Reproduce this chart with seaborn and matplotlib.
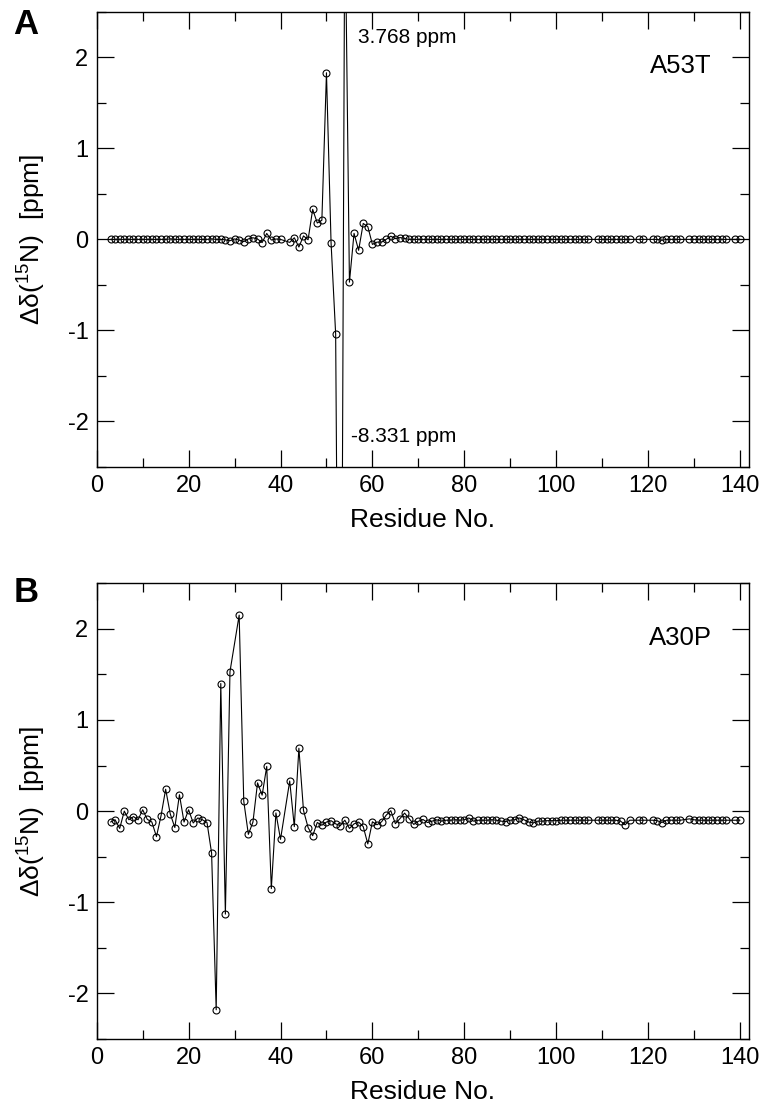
import numpy as np
import pandas as pd
import seaborn as sns
import matplotlib
matplotlib.use("Agg")
import matplotlib.pyplot as plt
from matplotlib.ticker import MultipleLocator

# =============================
# Data
# =============================
# residues with no data (prolines / overlapped peaks)
missing_a = [41, 108, 117, 120, 128, 138]
missing_b = [30, 41, 108, 117, 120, 128, 138]

residues_a = [r for r in range(3, 141) if r not in missing_a]
residues_b = [r for r in range(3, 141) if r not in missing_b]

# A53T: residues 3-40
shift_a_n = [0.0, 0.0, 0.0, 0.0, 0.0, 0.0, 0.0, 0.0, 0.0, 0.0,
             0.0, 0.0, 0.0, 0.005, 0.0, 0.0, 0.0, 0.0, 0.0, 0.0,
             0.0, 0.0, 0.005, 0.0, 0.0, -0.005, -0.015, 0.005, -0.008, -0.025,
             0.005, 0.018, 0.004, -0.035, 0.065, -0.007, 0.004, 0.0]
# A53T: residues 42-107
shift_a_mid = [-0.033, 0.018, -0.084, 0.038, -0.004, 0.33, 0.18, 0.21, 1.83,
               -0.035, -1.04, -8.331, 3.768, -0.47, 0.066, -0.12, 0.175, 0.14, -0.055,
               -0.03, -0.03, 0.0, 0.035, 0.008, 0.02, 0.01, 0.0, 0.0, 0.0,
               0.0, 0.0, 0.0, 0.0, 0.0, 0.0, 0.0, 0.0, 0.0, 0.0,
               0.0, 0.0, 0.0, 0.0, 0.0, 0.0, 0.0, 0.0, 0.0, 0.0,
               0.0, 0.0, 0.0, 0.0, 0.0, 0.0, 0.0, 0.0, 0.0, 0.0,
               0.0, 0.0, 0.0, 0.0, 0.0, 0.0, 0.0]
# A53T: residues 109-116, 118-119, 121-127, 129-137, 139-140
shift_a_c = [0.0, 0.0, 0.0, 0.0, 0.0, 0.0, 0.0, 0.0,
             0.0, 0.0,
             0.0, 0.0, -0.01, 0.0, 0.0, 0.0, 0.0,
             0.0, 0.0, 0.0, 0.0, 0.0, 0.0, 0.0, 0.0, 0.0,
             0.0, 0.0]

# A30P: residues 3-29
shift_b_n = [-0.12, -0.095, -0.19, 0.0, -0.095, -0.06, -0.095, 0.015, -0.09, -0.12,
             -0.28, -0.05, 0.24, -0.03, -0.18, 0.18, -0.12, 0.015, -0.13, -0.075,
             -0.095, -0.125, -0.46, -2.18, 1.40, -1.13, 1.53]
# A30P: residues 31-40
shift_b_31 = [2.15, 0.11, -0.255, -0.12, 0.31, 0.175, 0.49, -0.85, -0.02, -0.31]
# A30P: residues 42-107
shift_b_mid = [0.33, -0.17, 0.69, 0.008, -0.18, -0.27, -0.125, -0.155, -0.12, -0.105,
               -0.14, -0.16, -0.1, -0.19, -0.14, -0.12, -0.17, -0.36, -0.117, -0.15,
               -0.117, -0.045, 0.005, -0.138, -0.082, -0.022, -0.082, -0.146, -0.112, -0.092,
               -0.125, -0.11, -0.095, -0.11, -0.1, -0.1, -0.095, -0.1, -0.095, -0.075,
               -0.11, -0.1, -0.1, -0.1, -0.095, -0.1, -0.11, -0.115, -0.1, -0.095,
               -0.075, -0.095, -0.12, -0.13, -0.11, -0.11, -0.105, -0.105, -0.105, -0.1,
               -0.1, -0.1, -0.1, -0.1, -0.1, -0.1]
# A30P: residues 109-116, 118-119, 121-127, 129-137, 139-140
shift_b_c = [-0.1, -0.1, -0.1, -0.1, -0.1, -0.11, -0.15, -0.1,
             -0.1, -0.1,
             -0.1, -0.105, -0.125, -0.1, -0.1, -0.1, -0.1,
             -0.085, -0.095, -0.1, -0.1, -0.1, -0.1, -0.1, -0.1, -0.1,
             -0.1, -0.1]

shift_a = shift_a_n + shift_a_mid + shift_a_c
shift_b = shift_b_n + shift_b_31 + shift_b_mid + shift_b_c

df_a = pd.DataFrame({"residue": residues_a, "shift": shift_a})
df_b = pd.DataFrame({"residue": residues_b, "shift": shift_b})

x_ticks = [0, 20, 40, 60, 80, 100, 120, 140]
y_ticks = [-2, -1, 0, 1, 2]

# =============================
# Style
# =============================
sns.set_style("ticks")
plt.rcParams["font.family"] = ["Liberation Sans", "DejaVu Sans"]
plt.rcParams["mathtext.fontset"] = "custom"
plt.rcParams["mathtext.rm"] = "Liberation Sans"
plt.rcParams["axes.unicode_minus"] = False
plt.rcParams["text.color"] = "black"
plt.rcParams["axes.labelcolor"] = "black"
plt.rcParams["xtick.color"] = "black"
plt.rcParams["ytick.color"] = "black"

fig = plt.figure(figsize=(7.64, 11.08), dpi=100)
ax_a = fig.add_axes([0.1266, 0.5785, 0.854, 0.4109])
ax_b = fig.add_axes([0.1266, 0.0623, 0.854, 0.4113])


def draw_panel(ax, df, name):
    sns.lineplot(data=df, x="residue", y="shift", ax=ax, color="black",
                 lw=0.8, marker="o", ms=5, mfc="none", mec="black", mew=0.8,
                 sort=False)
    ax.set_xlim(0, 142)
    ax.set_ylim(-2.5, 2.5)
    ax.set_xticks(x_ticks)
    ax.set_yticks(y_ticks)
    ax.xaxis.set_minor_locator(MultipleLocator(10))
    ax.yaxis.set_minor_locator(MultipleLocator(0.5))
    ax.tick_params(which="both", direction="in", top=True, right=True,
                   labelsize=17, width=0.9, color="black", labelcolor="black")
    ax.tick_params(which="major", length=12, pad=6)
    ax.tick_params(which="minor", length=6.5)
    for s in ax.spines.values():
        s.set_linewidth(1.0)
        s.set_color("black")
    ax.set_xlabel("Residue No.", fontsize=19, labelpad=8)
    ax.set_ylabel(r"Δδ($\mathregular{^{15}}$N)  [ppm]", fontsize=19, labelpad=14)
    ax.text(133.8, 1.9, name, fontsize=18.5, ha="right", va="center")


draw_panel(ax_a, df_a, "A53T")
draw_panel(ax_b, df_b, "A30P")

ax_a.text(56.9, 2.22, "3.768 ppm", fontsize=15, ha="left", va="center")
ax_a.text(55.4, -2.17, "-8.331 ppm", fontsize=15, ha="left", va="center")

fig.text(13 / 764, 1 - 8 / 1108, "A", fontsize=25, fontweight="bold", ha="left", va="top")
fig.text(14 / 764, 1 - 576 / 1108, "B", fontsize=25, fontweight="bold", ha="left", va="top")

fig.savefig("out.png", dpi=100)
